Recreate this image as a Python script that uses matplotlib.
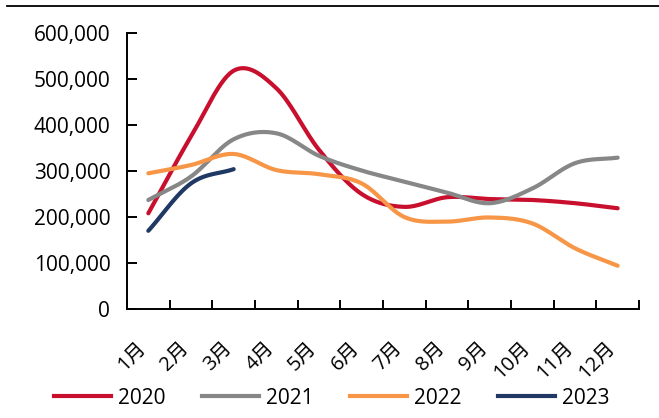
import numpy as np
import matplotlib
matplotlib.use("Agg")
import matplotlib.pyplot as plt
from matplotlib.lines import Line2D
from matplotlib.ticker import FuncFormatter, FixedLocator

plt.rcParams['font.family'] = ['Open Sans', 'Noto Sans CJK SC', 'DejaVu Sans']

months = ['1月', '2月', '3月', '4月', '5月', '6月', '7月', '8月', '9月', '10月', '11月', '12月']
y2020 = [208000, 375000, 518000, 480000, 346000, 250000, 222000, 243000, 239000, 237000, 230000, 219000]
y2021 = [237000, 288000, 369000, 382000, 333000, 301000, 277000, 253000, 230000, 262000, 317000, 329000]
y2022 = [295000, 313000, 337000, 302000, 293000, 273000, 200000, 190000, 199000, 186000, 132000, 94000]
y2023 = [170000, 273000, 304000]

series = [
    ('2020', y2020, '#C8102E'),
    ('2021', y2021, '#878787'),
    ('2022', y2022, '#F79646'),
    ('2023', y2023, '#1F3864'),
]


def smooth(x, y, n=30):
    """Catmull-Rom style smoothing between consecutive points."""
    x = np.asarray(x, float)
    y = np.asarray(y, float)
    if len(x) < 3:
        return x, y
    px = np.concatenate([[2 * x[0] - x[1]], x, [2 * x[-1] - x[-2]]])
    py = np.concatenate([[2 * y[0] - y[1]], y, [2 * y[-1] - y[-2]]])
    xs, ys = [], []
    t = np.linspace(0, 1, n, endpoint=False)
    for i in range(1, len(px) - 2):
        p0, p1, p2, p3 = px[i - 1], px[i], px[i + 1], px[i + 2]
        q0, q1, q2, q3 = py[i - 1], py[i], py[i + 1], py[i + 2]
        h00 = 2 * t**3 - 3 * t**2 + 1
        h10 = t**3 - 2 * t**2 + t
        h01 = -2 * t**3 + 3 * t**2
        h11 = t**3 - t**2
        m1x, m2x = (p2 - p0) / 2, (p3 - p1) / 2
        m1y, m2y = (q2 - q0) / 2, (q3 - q1) / 2
        xs.append(h00 * p1 + h10 * m1x + h01 * p2 + h11 * m2x)
        ys.append(h00 * q1 + h10 * m1y + h01 * q2 + h11 * m2y)
    xs.append([x[-1]])
    ys.append([y[-1]])
    return np.concatenate(xs), np.concatenate(ys)


W, H = 659, 418
FS = 15
fig = plt.figure(figsize=(W / 100, H / 100), dpi=100)
ax = fig.add_axes([127 / W, 1 - 309 / H, (639 - 127) / W, (309 - 33) / H])

for name, vals, color in series:
    xs, ys = smooth(np.arange(len(vals)), vals)
    ax.plot(xs, ys, color=color, lw=3.0, solid_capstyle='round', label=name)

ax.set_xlim(-0.5, len(months) - 0.5)
ax.set_ylim(0, 600000)
ax.yaxis.set_major_locator(FixedLocator(np.arange(0, 600001, 100000)))
ax.yaxis.set_major_formatter(FuncFormatter(lambda v, p: f'{int(v):,}'))

ax.set_xticks(np.arange(len(months)) + 0.05)
ax.set_xticklabels(months, rotation=45, ha='right', va='top')
ax.set_xticks(np.arange(len(months) + 1) - 0.5, minor=True)
ax.tick_params(axis='x', which='major', length=0, pad=21, labelsize=FS - 0.5)
ax.tick_params(axis='x', which='minor', direction='in', length=6.5, width=1.4)
ax.tick_params(axis='y', direction='in', length=7, width=1.4, pad=12, labelsize=FS)

for s in ['top', 'right']:
    ax.spines[s].set_visible(False)
for s in ['left', 'bottom']:
    ax.spines[s].set_linewidth(1.4)

handles = [Line2D([], [], color=c, lw=3.0) for _, _, c in series]
fig.legend(handles, [n for n, _, _ in series], loc='center', bbox_to_anchor=(332 / W, 1 - 398 / H),
           ncol=4, frameon=False, fontsize=FS, handlelength=2.75, columnspacing=1.73, handletextpad=0.34)

fig.add_artist(Line2D([7 / W, 1], [1 - 6 / H, 1 - 6 / H], color='black', lw=1.3, transform=fig.transFigure))

fig.savefig('out.png', dpi=100)
